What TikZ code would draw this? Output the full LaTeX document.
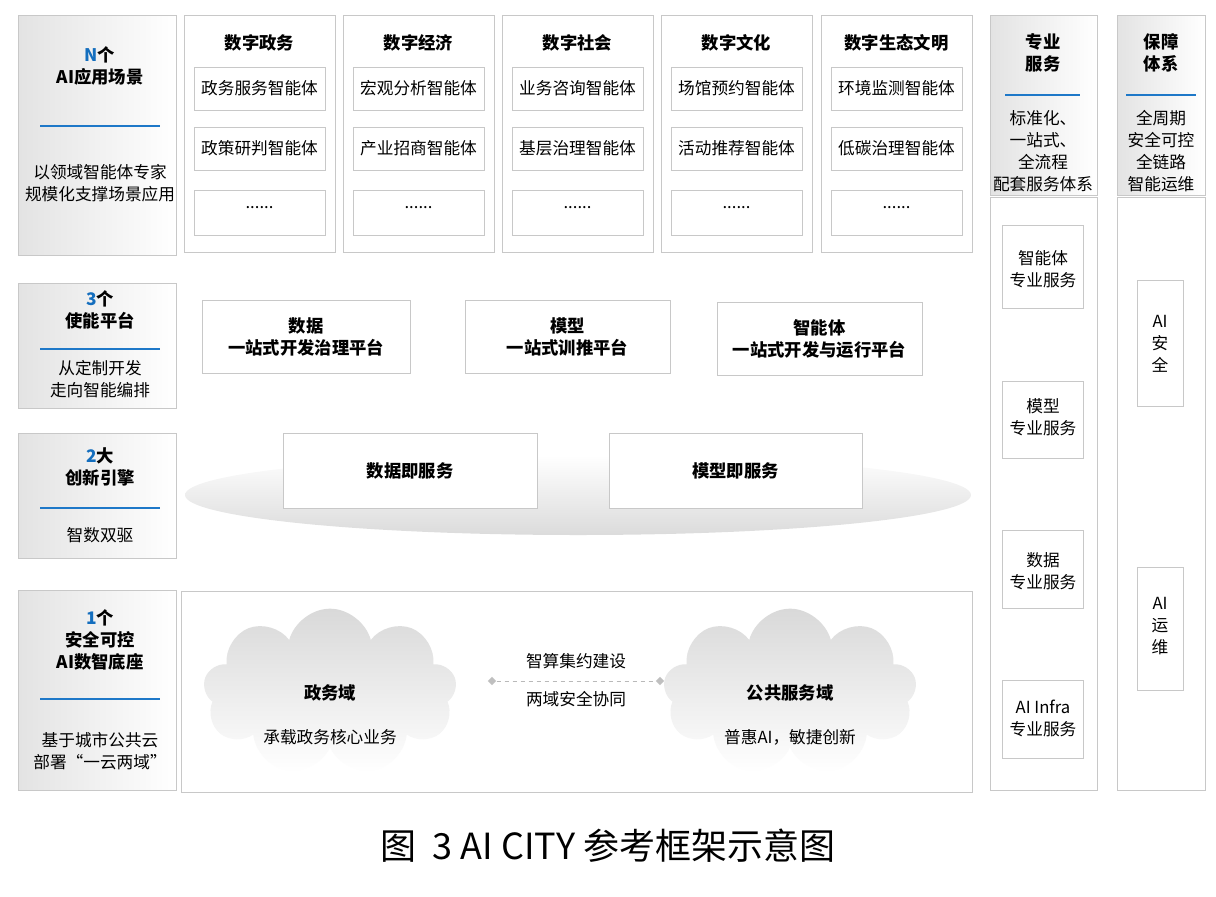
\documentclass[tikz,border=0pt]{standalone}
\usepackage{fontspec}
\setmainfont{Noto Sans CJK SC}
\usetikzlibrary{shapes.symbols,shapes.geometric}
\definecolor{lineblue}{RGB}{30,120,200}
\definecolor{numblue}{RGB}{20,110,190}
\definecolor{edgegray}{RGB}{200,200,200}
\tikzset{
  panel/.style={draw=edgegray,left color=gray!22,right color=white},
  frame/.style={draw=edgegray,fill=white},
  item/.style={draw=edgegray,fill=white,align=center,font=\fontsize{12.5}{15}\selectfont},
  label/.style={align=center,font=\fontsize{12.5}{16.5}\selectfont},
  head/.style={align=center,font=\fontsize{13}{16.5}\selectfont\bfseries},
  blueline/.style={draw=lineblue,line width=1.6pt}
}
\begin{document}
\begin{tikzpicture}[x=0.75pt,y=0.75pt,yscale=-1,xscale=1]
\useasboundingbox (0,0) rectangle (1216,896);

% left panels
\draw[panel] (18,15) rectangle (176,255);
\draw[panel] (18,283) rectangle (176,408);
\draw[panel] (18,433) rectangle (176,558);
\draw[panel] (18,590) rectangle (176,790);
\node[head] (tN) at (100,66) {{\color{numblue}N}个\\AI应用场景};
\draw[blueline] (40,126) -- (160,126);
\node[label] (sN) at (100,183) {以领域智能体专家\\规模化支撑场景应用};
\node[head] (t3) at (100,310) {{\color{numblue}3}个\\使能平台};
\draw[blueline] (40,349) -- (160,349);
\node[label] (s3) at (100,379) {从定制开发\\走向智能编排};
\node[head] (t2) at (100,467) {{\color{numblue}2}大\\创新引擎};
\draw[blueline] (40,508) -- (160,508);
\node[label] (s2) at (100,535) {智数双驱};
\node[head] (t1) at (100,640) {{\color{numblue}1}个\\安全可控\\AI数智底座};
\draw[blueline] (40,699) -- (160,699);
\node[label] (s1) at (100,751) {基于城市公共云\\部署“一云两域”};

% application domains
\foreach \x/\t/\a/\b [count=\i] in {184/数字政务/政务服务智能体/政策研判智能体,
  343/数字经济/宏观分析智能体/产业招商智能体,
  502/数字社会/业务咨询智能体/基层治理智能体,
  661/数字文化/场馆预约智能体/活动推荐智能体,
  821/数字生态文明/环境监测智能体/低碳治理智能体}{
  \draw[frame] (\x,15) rectangle ++(151,237);
  \node[head] (dom\i) at (\x+75.5,43) {\t};
  \draw[item] (\x+10,67) rectangle ++(131,43);
  \node[label] (ag\i a) at (\x+75.5,88) {\a};
  \draw[item] (\x+10,127) rectangle ++(131,43);
  \node[label] (ag\i b) at (\x+75.5,148) {\b};
  \draw[item] (\x+10,190) rectangle ++(131,45);
  \node[label] (ag\i c) at (\x+75.5,208) {......};
}

% platforms
\tikzset{plat/.style={item,font=\fontsize{13}{17}\selectfont\bfseries,minimum height=54.75pt}}
\node[plat,minimum width=156pt] (pdata) at (306,337) {数据\\一站式开发治理平台};
\node[plat,minimum width=153.75pt] (pmodel) at (567.5,337) {模型\\一站式训推平台};
\node[plat,minimum width=153.75pt] (pagent) at (819.5,339) {智能体\\一站式开发与运行平台};

% engines
\shade[top color=white,bottom color=gray!28] (578,495) ellipse (393 and 40);
\node[plat,minimum width=190.5pt,minimum height=56.25pt] (edata) at (410,470.5) {数据即服务};
\node[plat,minimum width=189.75pt,minimum height=56.25pt] (emodel) at (735.5,470.5) {模型即服务};

% base
\draw[frame] (181,591) rectangle (972,792);
\node[cloud,cloud puffs=9,aspect=1.6,draw=none,top color=gray!30,bottom color=white,
  minimum width=190pt,minimum height=125pt] (cgov) at (330,692) {};
\node[cloud,cloud puffs=9,aspect=1.6,draw=none,top color=gray!30,bottom color=white,
  minimum width=190pt,minimum height=125pt] (cpub) at (790,692) {};
\node[head] (ngov) at (330,693) {政务域};
\node[label] (dgov) at (330,737) {承载政务核心业务};
\node[head] (npub) at (790,693) {公共服务域};
\node[label] (dpub) at (790,737) {普惠AI，敏捷创新};
\node[diamond,fill=gray!50,inner sep=1.6pt] (la) at (492,681) {};
\node[diamond,fill=gray!50,inner sep=1.6pt] (lb) at (660,681) {};
\draw[gray!55,dashed] (la) -- (lb);
\node[label] (lk1) at (576,661) {智算集约建设};
\node[label] (lk2) at (576,699) {两域安全协同};

% professional services
\draw[panel] (990,15) rectangle (1097,195);
\node[head] (hsvc) at (1043,53) {专业\\服务};
\draw[blueline] (1005,95) -- (1080,95);
\node[label] (tsvc) at (1043,151) {标准化、\\一站式、\\全流程\\配套服务体系};
\draw[frame] (990,197) rectangle (1097,790);
\draw[item] (1002,225) rectangle (1083,308);
\node[label] (sv1) at (1043,269) {智能体\\专业服务};
\draw[item] (1002,381) rectangle (1083,458);
\node[label] (sv2) at (1043,417) {模型\\专业服务};
\draw[item] (1002,530) rectangle (1083,608);
\node[label] (sv3) at (1043,571) {数据\\专业服务};
\draw[item] (1002,680) rectangle (1083,758);
\node[label] (sv4) at (1043,718) {AI Infra\\专业服务};

% guarantee
\draw[panel] (1117,15) rectangle (1205,195);
\node[head] (hgua) at (1161,53) {保障\\体系};
\draw[blueline] (1126,95) -- (1196,95);
\node[label] (tgua) at (1161,151) {全周期\\安全可控\\全链路\\智能运维};
\draw[frame] (1117,197) rectangle (1205,790);
\draw[item] (1137,280) rectangle (1183,406);
\node[label] (gu1) at (1160,344) {AI\\安\\全};
\draw[item] (1137,567) rectangle (1183,690);
\node[label] (gu2) at (1160,626) {AI\\运\\维};

% caption
\node[font=\fontsize{27}{32}\selectfont] (cap) at (608,846) {图\ \ 3 AI CITY 参考框架示意图};
\end{tikzpicture}
\end{document}
